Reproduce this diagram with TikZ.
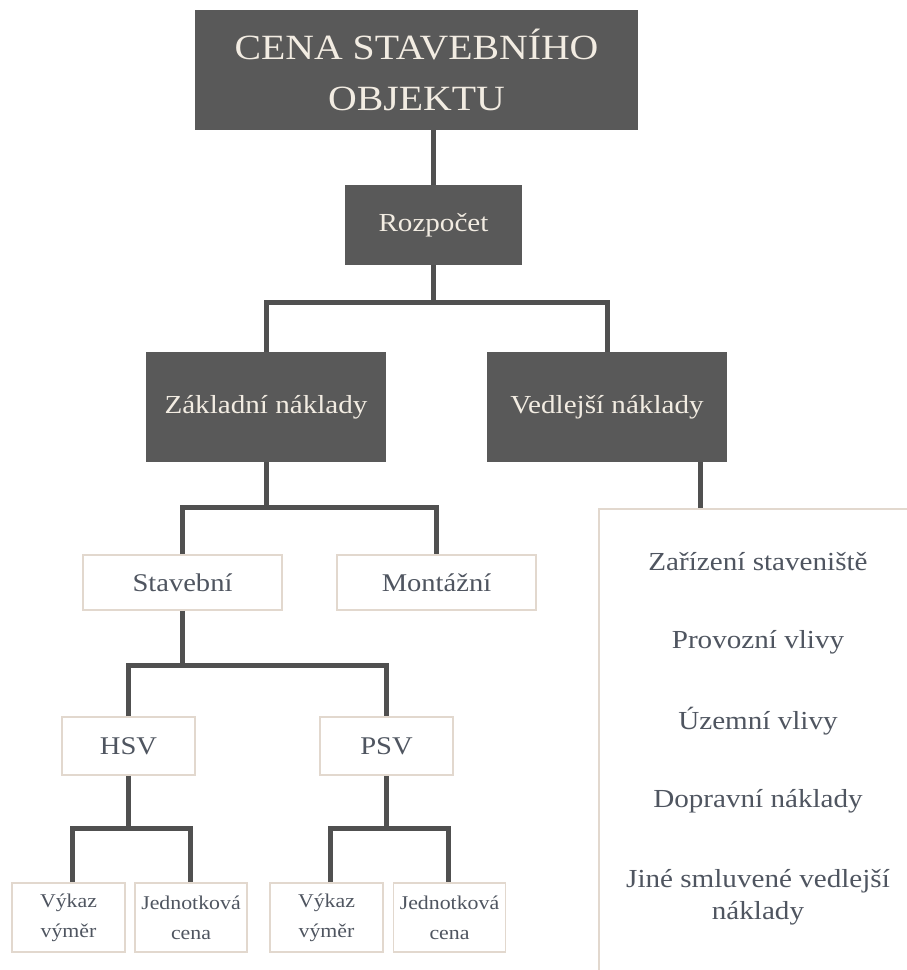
\documentclass[tikz,border=0pt]{standalone}
\usepackage{fontspec}
\setmainfont{Liberation Serif}[FakeStretch=1.12]
\usepackage{tikz}

\definecolor{boxdark}{HTML}{595959}
\definecolor{txtlight}{HTML}{F2ECE2}
\definecolor{txtgray}{HTML}{4F5560}
\definecolor{rimbeige}{HTML}{E2D8CE}
\definecolor{linegray}{HTML}{505050}

\tikzset{
  darkbox/.style={fill=boxdark, text=txtlight, inner sep=0pt, align=center},
  lightbox/.style={draw=rimbeige, line width=1.8pt, fill=white, text=txtgray, inner sep=0pt, align=center},
  item/.style={text=txtgray, align=center, inner sep=0pt, font=\fontsize{26}{32}\selectfont},
  wire/.style={draw=linegray, line width=5pt}
}

\begin{document}
\begin{tikzpicture}[x=1pt,y=-1pt]
\useasboundingbox (0,0) rectangle (907,970);
% dark boxes
\node[darkbox, minimum width=443, minimum height=120, font=\fontsize{35.5}{51}\selectfont] (cena) at (416.5,70) {CENA STAVEBNÍHO\\OBJEKTU};
\node[darkbox, minimum width=177, minimum height=80, font=\fontsize{26}{30}\selectfont] (rozp) at (433.5,225) {Rozpočet};
\node[darkbox, minimum width=240, minimum height=110, font=\fontsize{26}{30}\selectfont] (zakl) at (266,407) {Základní náklady};
\node[darkbox, minimum width=240, minimum height=110, font=\fontsize{26}{30}\selectfont] (vedl) at (607,407) {Vedlejší náklady};
% light boxes
\node[lightbox, minimum width=199, minimum height=55, font=\fontsize{25.5}{30}\selectfont] (stav) at (182.5,582.5) {Stavební};
\node[lightbox, minimum width=199, minimum height=55, font=\fontsize{25.5}{30}\selectfont] (mont) at (436.5,582.5) {Montážní};
\node[lightbox, minimum width=133, minimum height=58, font=\fontsize{25.5}{30}\selectfont] (hsv) at (128.5,746) {HSV};
\node[lightbox, minimum width=133, minimum height=58, font=\fontsize{25.5}{30}\selectfont] (psv) at (386.5,746) {PSV};
\node[lightbox, minimum width=113, minimum height=69, font=\fontsize{19.5}{33}\selectfont] (vyk1) at (68.5,917.5) {\raisebox{-3pt}{Výkaz}\\výměr};
\node[lightbox, minimum width=112, minimum height=69, font=\fontsize{19.5}{33}\selectfont] (jed1) at (191,917.5) {\raisebox{-3pt}{Jednotková}\\cena};
\node[lightbox, minimum width=113, minimum height=69, font=\fontsize{19.5}{33}\selectfont] (vyk2) at (326.5,917.5) {\raisebox{-3pt}{Výkaz}\\výměr};
\node[lightbox, minimum width=112, minimum height=69, font=\fontsize{19.5}{33}\selectfont] (jed2) at (449.5,917.5) {\raisebox{-3pt}{Jednotková}\\cena};
% list of side costs
\node[lightbox, minimum width=314, minimum height=466, anchor=north west] (seznam) at (598,508) {};
\node[item] (zariz) at (758,562) {Zařízení staveniště};
\node[item] (provoz) at (758,642) {Provozní vlivy};
\node[item] (uzemi) at (758,721) {Územní vlivy};
\node[item] (doprava) at (758,801) {Dopravní náklady};
\node[item] (jine) at (758,897) {Jiné smluvené vedlejší\\náklady};
% bus points
\coordinate (b1) at (433.5,302);
\coordinate (b2) at (266,507);
\coordinate (b3) at (182.5,665);
\coordinate (b4) at (128.5,828);
\coordinate (b5) at (386.5,828);
% connector columns
\coordinate (xv) at (700,0);
\coordinate (x1) at (72,0);
\coordinate (x2) at (190,0);
\coordinate (x3) at (330,0);
\coordinate (x4) at (448,0);
% connectors
\draw[wire] (rozp.north) -- (rozp.north |- cena.south);
\draw[wire] (rozp.south) -- (b1);
\draw[wire] (zakl.north) |- (b1) -| (vedl.north);
\draw[wire] (zakl.south) -- (b2);
\draw[wire] (stav.north) |- (b2) -| (mont.north);
\draw[wire] (xv |- vedl.south) -- (xv |- seznam.north);
\draw[wire] (stav.south) -- (b3);
\draw[wire] (hsv.north) |- (b3) -| (psv.north);
\draw[wire] (hsv.south) -- (b4);
\draw[wire] (x1 |- vyk1.north) |- (b4) -| (x2 |- jed1.north);
\draw[wire] (psv.south) -- (b5);
\draw[wire] (x3 |- vyk2.north) |- (b5) -| (x4 |- jed2.north);
\end{tikzpicture}
\end{document}
